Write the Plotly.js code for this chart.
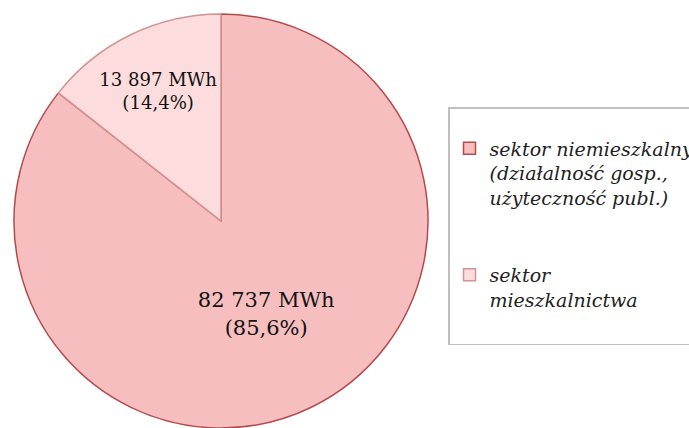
<!DOCTYPE html>
<html>
<head>
<meta charset="utf-8">
<script src="https://cdn.plot.ly/plotly-3.0.1.min.js"></script>
<style>
  html, body { margin: 0; padding: 0; background: #fff; }
  #chart { width: 689px; height: 428px; }
</style>
</head>
<body>
<div id="chart"></div>
<script>
window.onload = drawChart;

// sectors, in legend order
var sectorLabels = [
    "sektor niemieszkalny<br>(działalność gosp.,<br>użyteczność publ.)<br> <br> ",
    "sektor<br>mieszkalnictwa<br> "
];
var energyMWh = [82737, 13897];

var fillColors = ["#f6bebf", "#fcdcdc"];
var lineColors = ["#b54a4b", "#d09494"];

function drawChart() {

    var pie = {
        type: 'pie',
        labels: sectorLabels,
        values: energyMWh,
        sort: false,
        direction: 'clockwise',
        rotation: 0,
        domain: { x: [14 / 689, 428 / 689], y: [0, 1] },
        marker: {
            colors: fillColors,
            line: { color: lineColors, width: 1.5 }
        },
        texttemplate: '%{value:,} MWh<br>(%{percent:.1%})',
        textposition: 'inside',
        insidetextorientation: 'horizontal',
        textfont: { family: 'DejaVu Serif', size: 21, color: '#111' },
        hoverinfo: 'label+value+percent'
    };

    var layout = {
        width: 689,
        height: 428,
        margin: { l: 0, r: 0, t: 14, b: 0, autoexpand: false },
        separators: ', ',
        paper_bgcolor: '#fff',
        showlegend: true,
        legend: {
            x: 448 / 689,
            xanchor: 'left',
            y: 0.775,
            yanchor: 'top',
            valign: 'top',
            bordercolor: '#bfbfbf',
            borderwidth: 1.5,
            font: { family: 'DejaVu Serif', size: 19, color: '#222', style: 'italic' },
            title: { text: ' ', font: { size: 16 } }
        }
    };

    Plotly.newPlot('chart', [pie], layout, { displayModeBar: false });
}
</script>
</body>
</html>
